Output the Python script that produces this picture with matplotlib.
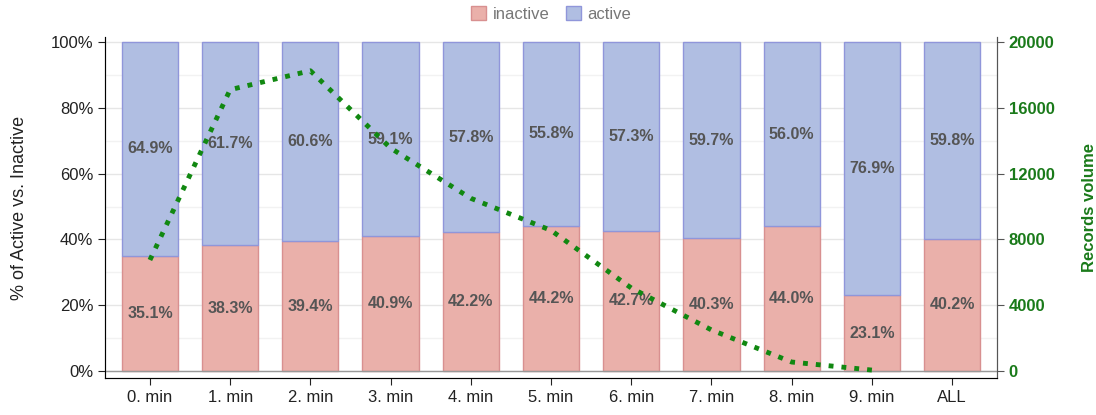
import numpy as np
import matplotlib
matplotlib.use("Agg")
import matplotlib.pyplot as plt
from matplotlib.ticker import FuncFormatter, MultipleLocator

plt.rcParams['font.family'] = ['Liberation Sans', 'DejaVu Sans']

categories = ['0. min', '1. min', '2. min', '3. min', '4. min', '5. min',
              '6. min', '7. min', '8. min', '9. min', 'ALL']
inactive = [35.1, 38.3, 39.4, 40.9, 42.2, 44.2, 42.7, 40.3, 44.0, 23.1, 40.2]
active = [64.9, 61.7, 60.6, 59.1, 57.8, 55.8, 57.3, 59.7, 56.0, 76.9, 59.8]
# records volume, only per minute (no value for ALL)
volume = [6750, 17100, 18250, 13550, 10500, 8550, 5050, 2500, 550, 60]

fig = plt.figure(figsize=(10.96, 4.15), dpi=100)
ax = fig.add_axes([0.0958, 0.0892, 0.8139, 0.8216])

x = np.arange(len(categories))
w = 0.7
ax.bar(x, inactive, w, color='#eab0aa', edgecolor='#d89090', linewidth=1, label='inactive', zorder=2)
ax.bar(x, active, w, bottom=inactive, color='#b0bee2', edgecolor='#9096da', linewidth=1, label='active', zorder=2)

for i in range(len(categories)):
    ax.text(x[i], inactive[i] / 2, f'{inactive[i]:.1f}%', ha='center', va='center',
            fontsize=11.5, fontweight='bold', color='#555555', zorder=5)
    ax.text(x[i], inactive[i] + active[i] / 2, f'{active[i]:.1f}%', ha='center', va='center',
            fontsize=11.5, fontweight='bold', color='#555555', zorder=5)

ax.set_xlim(-0.56, len(categories) - 0.44)
ax.set_ylim(-2.1, 101.5)
ax.yaxis.set_major_locator(MultipleLocator(20))
ax.yaxis.set_minor_locator(MultipleLocator(10))
ax.yaxis.set_major_formatter(FuncFormatter(lambda v, p: f'{v:.0f}%'))
ax.grid(axis='y', which='major', color='#e6e6e6', linewidth=1, zorder=0)
ax.grid(axis='y', which='minor', color='#f2f2f2', linewidth=1, zorder=0)
ax.axhline(0, color='#999999', linewidth=1, zorder=3)
ax.set_xticks(x)
ax.set_xticklabels(categories)
ax.tick_params(axis='both', labelsize=12, colors='#222222', length=5)
ax.tick_params(axis='y', which='minor', length=0)
ax.set_ylabel('% of Active vs. Inactive', fontsize=13, color='#222222', labelpad=16)
ax.spines['top'].set_visible(False)
for s in ['left', 'bottom', 'right']:
    ax.spines[s].set_color('#555555')

ax2 = ax.twinx()
ax2.plot(x[:len(volume)], volume, color='#118811', linestyle=':', linewidth=3.5, zorder=4)
ax2.set_ylim(-2.1 * 200, 101.5 * 200)
ax2.set_yticks([0, 4000, 8000, 12000, 16000, 20000])
ax2.tick_params(axis='y', labelsize=12, colors='#555555', labelcolor='#1a7a1a', length=5)
for lab in ax2.get_yticklabels():
    lab.set_fontweight('bold')
ax2.set_ylabel('Records volume', fontsize=12, fontweight='bold', color='#1a7a1a', labelpad=20)
ax2.spines['top'].set_visible(False)
ax2.spines['right'].set_color('#555555')

leg = ax.legend(loc='upper center', bbox_to_anchor=(0.5, 1.135), ncol=2, frameon=False,
                fontsize=12, handlelength=0.9, handleheight=0.9, columnspacing=1.0,
                handletextpad=0.4)
for t in leg.get_texts():
    t.set_color('#777777')

fig.savefig('out.png', dpi=100)
